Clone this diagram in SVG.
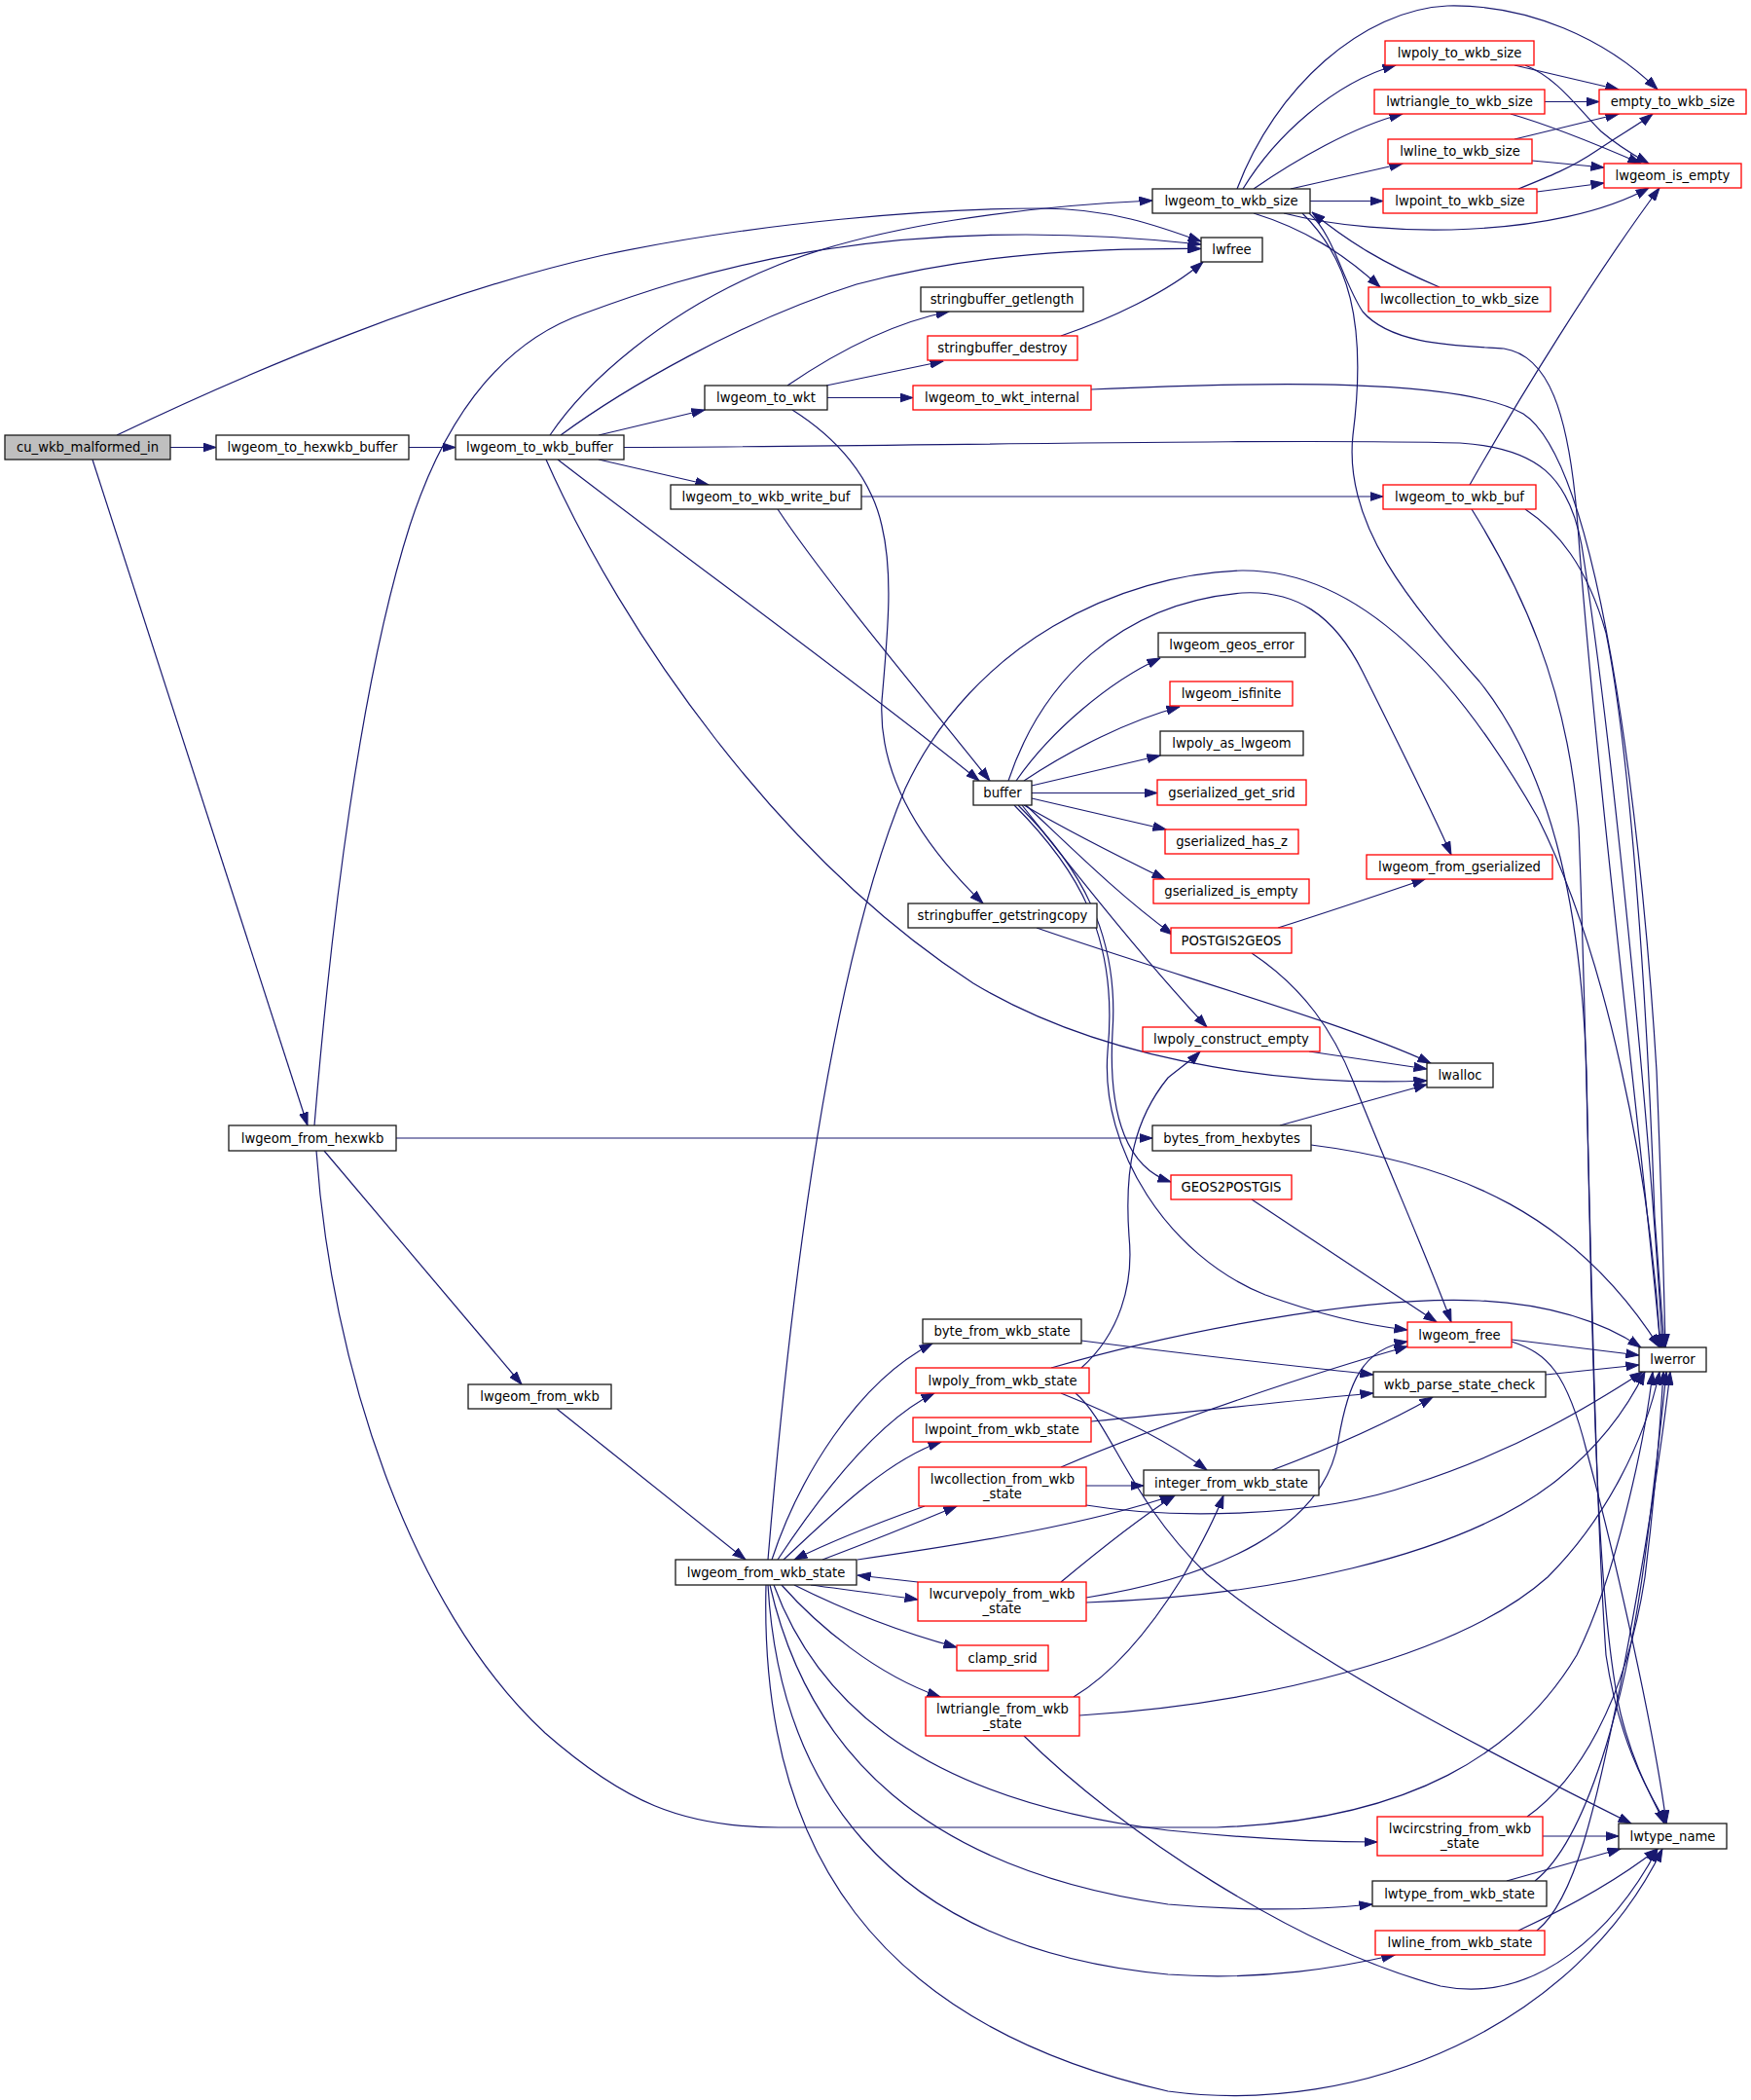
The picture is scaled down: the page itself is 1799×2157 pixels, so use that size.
<svg xmlns="http://www.w3.org/2000/svg" width="1799" height="2157" viewBox="0 0 1799 2157">
<style>
.n rect{fill:#ffffff;stroke:#1a1a1a;stroke-width:1.3}
.r rect{fill:#ffffff;stroke:#ff0000;stroke-width:1.3}
.root rect{fill:#bfbfbf;stroke:#1a1a1a;stroke-width:1.3}
text{font-family:"DejaVu Sans","Liberation Sans",sans-serif;font-size:13.2px;text-anchor:middle;fill:#000000}
.e path{fill:none;stroke:#191970;stroke-width:1.2;marker-end:url(#a)}
</style>
<defs>
<marker id="a" markerWidth="14" markerHeight="10" refX="13.5" refY="5" orient="auto" markerUnits="userSpaceOnUse"><path d="M0,0.5 L13.5,5 L0,9.5 z" fill="#191970" stroke="#191970" stroke-width="1"/></marker>
</defs>
<rect x="0" y="0" width="1799" height="2157" fill="#ffffff"/>
<g class="e" id="edges">
<path d="M175,459.5 L222,459.5"/>
<path d="M120,447 C260,380 450,300 620,262 C780,228 960,214 1070,214 C1140,214 1190,232 1234,248"/>
<path d="M95,472 L316,1156"/>
<path d="M420,459.5 L468,459.5"/>
<path d="M565,447 C600,395 680,320 800,272 C900,232 1050,212 1184,206"/>
<path d="M576,447 C640,400 760,330 880,292 C1000,260 1120,255 1234,255.5"/>
<path d="M615,447 L724,421"/>
<path d="M615,472 L728,498"/>
<path d="M641,459.5 C900,459 1300,450 1500,455 C1580,460 1612,490 1625,560 C1655,750 1695,1150 1708,1384"/>
<path d="M573,472 C700,570 900,715 1006,802"/>
<path d="M561,472 C640,650 800,880 1000,1010 C1150,1100 1350,1115 1466,1110"/>
<path d="M809,396 C850,368 910,333 975,320"/>
<path d="M849,396 L969,371"/>
<path d="M850,408.5 L938,408.5"/>
<path d="M814,421 C860,450 895,490 906,540 C918,590 912,650 906,720 C902,800 950,870 1010,928"/>
<path d="M1090,345 C1140,328 1200,300 1236,269"/>
<path d="M1121,400 C1300,392 1500,388 1565,425 C1650,480 1690,900 1702,1100 C1708,1250 1710,1340 1711,1384"/>
<path d="M885,510 L1421,510"/>
<path d="M799,523 C850,600 960,730 1017,802"/>
<path d="M1277,194 C1310,140 1370,85 1434,67"/>
<path d="M1288,194 C1330,165 1390,130 1441,117"/>
<path d="M1326,194 L1441,168"/>
<path d="M1346,206.5 L1421,206.5"/>
<path d="M1271,194 C1310,90 1400,10 1487,6 C1570,4 1650,40 1703,92"/>
<path d="M1319,219 C1420,245 1600,245 1694,193"/>
<path d="M1288,219 C1340,235 1380,260 1418,295"/>
<path d="M1479,295 C1420,270 1385,248 1348,218"/>
<path d="M1345,219 C1370,240 1380,290 1400,320 C1430,355 1500,355 1545,358 C1590,365 1612,420 1621,540 C1640,800 1690,1200 1706,1384"/>
<path d="M1338,219 C1385,265 1405,330 1390,447 C1380,540 1450,620 1520,700 C1600,800 1625,950 1630,1100 C1636,1400 1640,1650 1665,1760 C1680,1820 1700,1850 1710,1873"/>
<path d="M1556,67 L1663,92"/>
<path d="M1567,67 C1600,80 1620,110 1645,135 C1665,152 1680,160 1694,168"/>
<path d="M1587,104.5 L1643,104.5"/>
<path d="M1552,117 C1590,128 1640,148 1686,168"/>
<path d="M1556,143 L1663,117"/>
<path d="M1574,165 L1648,172"/>
<path d="M1560,194 C1590,182 1615,172 1640,155 C1665,138 1685,127 1698,117"/>
<path d="M1579,197 L1648,188"/>
<path d="M1510,498 C1560,410 1640,280 1705,193"/>
<path d="M1512,523 C1560,600 1610,700 1622,850 C1632,1100 1636,1500 1650,1700 C1665,1800 1700,1850 1712,1873"/>
<path d="M1567,523 C1600,545 1630,580 1650,650 C1680,800 1695,1100 1700,1250 C1705,1320 1708,1360 1710,1384"/>
<path d="M1044,802 C1080,750 1140,700 1192,676"/>
<path d="M1052,802 C1100,770 1160,740 1212,726"/>
<path d="M1060,807 L1192,776"/>
<path d="M1060,814.5 L1189,814.5"/>
<path d="M1060,820 L1198,852"/>
<path d="M1052,827 C1100,855 1150,880 1197,903"/>
<path d="M1054,827 C1100,870 1150,920 1205,960"/>
<path d="M1036,802 C1070,700 1150,620 1276,609 C1330,606 1370,630 1400,690 C1440,770 1470,830 1491,878"/>
<path d="M1050,827 C1100,890 1170,980 1240,1055"/>
<path d="M1046,827 C1110,890 1150,960 1143,1060 C1138,1150 1160,1200 1203,1214"/>
<path d="M1042,827 C1105,890 1150,960 1138,1080 C1130,1180 1200,1290 1300,1330 C1360,1352 1410,1362 1446,1366"/>
<path d="M1065,953 C1200,1000 1380,1050 1470,1092"/>
<path d="M1313,953 C1370,935 1420,918 1464,903"/>
<path d="M1286,979 C1340,1015 1370,1060 1390,1110 C1430,1210 1470,1300 1491,1358"/>
<path d="M1345,1080 L1466,1098"/>
<path d="M1315,1156 L1466,1114"/>
<path d="M1347,1176 C1500,1195 1620,1250 1705,1384"/>
<path d="M1286,1232 L1476,1358"/>
<path d="M1553,1376 L1684,1392"/>
<path d="M1553,1378 C1590,1390 1610,1410 1630,1490 C1660,1600 1700,1780 1712,1873"/>
<path d="M1588,1412 L1684,1402"/>
<path d="M407,1169 L1184,1169"/>
<path d="M333,1182 L536,1422"/>
<path d="M323,1156 C340,950 370,700 421,540 C460,420 520,350 600,322 C700,285 900,215 1234,251"/>
<path d="M325,1182 C340,1400 420,1650 560,1780 C640,1850 700,1877 800,1877 L1250,1877 C1450,1870 1560,1800 1620,1700 C1660,1620 1690,1480 1698,1409"/>
<path d="M572,1447 L766,1602"/>
<path d="M793,1602 C820,1520 880,1420 958,1380"/>
<path d="M799,1602 C840,1540 900,1460 960,1431"/>
<path d="M805,1602 C850,1560 910,1500 967,1481"/>
<path d="M845,1602 C890,1585 940,1565 983,1547"/>
<path d="M950,1547 C900,1565 850,1585 816,1602"/>
<path d="M881,1602 C1000,1585 1120,1565 1205,1536"/>
<path d="M789,1602 C810,1350 850,1000 930,810 C1000,660 1150,590 1276,586 C1400,585 1500,700 1580,840 C1650,980 1695,1200 1706,1384"/>
<path d="M943,1625 L881,1618"/>
<path d="M833,1628 C870,1633 910,1638 943,1643"/>
<path d="M816,1628 C860,1650 920,1675 983,1692"/>
<path d="M803,1628 C840,1670 900,1720 966,1743"/>
<path d="M795,1628 C840,1750 950,1850 1200,1880 C1300,1890 1380,1892 1415,1892"/>
<path d="M791,1628 C830,1800 950,1920 1200,1956 C1300,1965 1370,1960 1410,1956"/>
<path d="M789,1628 C800,1820 900,2000 1200,2028 C1300,2035 1380,2020 1433,2008"/>
<path d="M787,1628 C780,1900 900,2080 1200,2148 C1400,2175 1620,2080 1708,1899"/>
<path d="M1103,1743 C1150,1715 1190,1660 1215,1620 C1235,1585 1250,1555 1257,1536"/>
<path d="M1109,1762 C1300,1750 1500,1700 1590,1620 C1650,1560 1690,1480 1705,1409"/>
<path d="M1052,1783 C1150,1880 1330,2000 1480,2040 C1580,2060 1660,1980 1703,1899"/>
<path d="M1090,1625 C1120,1600 1170,1560 1207,1536"/>
<path d="M1116,1641 C1250,1620 1360,1570 1375,1480 C1385,1420 1400,1385 1446,1378"/>
<path d="M1116,1646 C1300,1640 1500,1600 1600,1520 C1650,1480 1675,1440 1690,1409"/>
<path d="M1116,1526 L1175,1526"/>
<path d="M1090,1507 C1200,1460 1350,1410 1446,1383"/>
<path d="M1116,1546 C1200,1560 1350,1560 1450,1525 C1560,1490 1640,1440 1688,1409"/>
<path d="M1080,1405 C1200,1370 1400,1330 1520,1336 C1600,1340 1650,1360 1686,1384"/>
<path d="M1111,1405 C1150,1370 1165,1320 1160,1270 C1155,1200 1165,1150 1200,1107 C1215,1095 1225,1088 1233,1080"/>
<path d="M1090,1431 C1150,1455 1200,1480 1240,1510"/>
<path d="M1105,1431 C1140,1460 1160,1540 1240,1617 C1350,1710 1550,1810 1676,1873"/>
<path d="M1111,1377 C1250,1395 1350,1405 1411,1412"/>
<path d="M1121,1460 C1250,1448 1350,1436 1411,1431"/>
<path d="M1307,1510 C1360,1490 1420,1465 1472,1435"/>
<path d="M1585,1886 L1663,1886"/>
<path d="M1569,1866 C1620,1830 1670,1750 1690,1620 C1700,1540 1706,1460 1709,1409"/>
<path d="M1548,1932 L1665,1899"/>
<path d="M1577,1932 C1630,1890 1670,1750 1690,1600 C1700,1520 1708,1450 1712,1409"/>
<path d="M1560,1983 C1620,1955 1670,1925 1703,1899"/>
<path d="M1579,1983 C1620,1950 1640,1850 1665,1730 C1690,1600 1708,1480 1716,1409"/>
</g>
<g class="root" id="cu_wkb_malformed_in"><rect x="5" y="447" width="170" height="25"/><text x="90" y="464">cu_wkb_malformed_in</text></g>
<g class="n" id="lwgeom_to_hexwkb_buffer"><rect x="222" y="447" width="198" height="25"/><text x="321" y="464">lwgeom_to_hexwkb_buffer</text></g>
<g class="n" id="lwgeom_to_wkb_buffer"><rect x="468" y="447" width="173" height="25"/><text x="554.5" y="464">lwgeom_to_wkb_buffer</text></g>
<g class="n" id="lwgeom_to_wkt"><rect x="724" y="396" width="126" height="25"/><text x="787" y="413">lwgeom_to_wkt</text></g>
<g class="n" id="stringbuffer_getlength"><rect x="946" y="295" width="167" height="25"/><text x="1029.5" y="312">stringbuffer_getlength</text></g>
<g class="r" id="stringbuffer_destroy"><rect x="953" y="345" width="154" height="25"/><text x="1030" y="362">stringbuffer_destroy</text></g>
<g class="r" id="lwgeom_to_wkt_internal"><rect x="938" y="396" width="183" height="25"/><text x="1029.5" y="413">lwgeom_to_wkt_internal</text></g>
<g class="n" id="lwgeom_to_wkb_write_buf"><rect x="689" y="498" width="196" height="25"/><text x="787" y="515">lwgeom_to_wkb_write_buf</text></g>
<g class="n" id="lwgeom_to_wkb_size"><rect x="1184" y="194" width="162" height="25"/><text x="1265" y="211">lwgeom_to_wkb_size</text></g>
<g class="n" id="lwfree"><rect x="1234" y="244" width="63" height="25"/><text x="1265.5" y="261">lwfree</text></g>
<g class="r" id="lwpoly_to_wkb_size"><rect x="1423" y="42" width="153" height="25"/><text x="1499.5" y="59">lwpoly_to_wkb_size</text></g>
<g class="r" id="lwtriangle_to_wkb_size"><rect x="1412" y="92" width="175" height="25"/><text x="1499.5" y="109">lwtriangle_to_wkb_size</text></g>
<g class="r" id="lwline_to_wkb_size"><rect x="1426" y="143" width="148" height="25"/><text x="1500" y="160">lwline_to_wkb_size</text></g>
<g class="r" id="lwpoint_to_wkb_size"><rect x="1421" y="194" width="158" height="25"/><text x="1500" y="211">lwpoint_to_wkb_size</text></g>
<g class="r" id="empty_to_wkb_size"><rect x="1643" y="92" width="151" height="25"/><text x="1718.5" y="109">empty_to_wkb_size</text></g>
<g class="r" id="lwgeom_is_empty"><rect x="1648" y="168" width="141" height="25"/><text x="1718.5" y="185">lwgeom_is_empty</text></g>
<g class="r" id="lwcollection_to_wkb_size"><rect x="1406" y="295" width="187" height="25"/><text x="1499.5" y="312">lwcollection_to_wkb_size</text></g>
<g class="r" id="lwgeom_to_wkb_buf"><rect x="1421" y="498" width="157" height="25"/><text x="1499.5" y="515">lwgeom_to_wkb_buf</text></g>
<g class="n" id="buffer"><rect x="1000" y="802" width="60" height="25"/><text x="1030" y="819">buffer</text></g>
<g class="n" id="stringbuffer_getstringcopy"><rect x="933" y="928" width="194" height="25"/><text x="1030" y="945">stringbuffer_getstringcopy</text></g>
<g class="n" id="lwgeom_geos_error"><rect x="1190" y="650" width="151" height="25"/><text x="1265.5" y="667">lwgeom_geos_error</text></g>
<g class="r" id="lwgeom_isfinite"><rect x="1202" y="700" width="126" height="25"/><text x="1265" y="717">lwgeom_isfinite</text></g>
<g class="n" id="lwpoly_as_lwgeom"><rect x="1192" y="751" width="147" height="25"/><text x="1265.5" y="768">lwpoly_as_lwgeom</text></g>
<g class="r" id="gserialized_get_srid"><rect x="1189" y="801" width="153" height="26"/><text x="1265.5" y="818.5">gserialized_get_srid</text></g>
<g class="r" id="gserialized_has_z"><rect x="1197" y="852" width="137" height="25"/><text x="1265.5" y="869">gserialized_has_z</text></g>
<g class="r" id="gserialized_is_empty"><rect x="1185" y="903" width="160" height="25"/><text x="1265" y="920">gserialized_is_empty</text></g>
<g class="r" id="POSTGIS2GEOS"><rect x="1203" y="953" width="124" height="26"/><text x="1265" y="970.5">POSTGIS2GEOS</text></g>
<g class="r" id="lwgeom_from_gserialized"><rect x="1404" y="878" width="191" height="25"/><text x="1499.5" y="895">lwgeom_from_gserialized</text></g>
<g class="r" id="lwpoly_construct_empty"><rect x="1174" y="1055" width="182" height="25"/><text x="1265" y="1072">lwpoly_construct_empty</text></g>
<g class="n" id="lwalloc"><rect x="1466" y="1092" width="68" height="25"/><text x="1500" y="1109">lwalloc</text></g>
<g class="n" id="bytes_from_hexbytes"><rect x="1184" y="1156" width="163" height="26"/><text x="1265.5" y="1173.5">bytes_from_hexbytes</text></g>
<g class="r" id="GEOS2POSTGIS"><rect x="1203" y="1207" width="124" height="25"/><text x="1265" y="1224">GEOS2POSTGIS</text></g>
<g class="r" id="lwgeom_free"><rect x="1446" y="1358" width="107" height="26"/><text x="1499.5" y="1375.5">lwgeom_free</text></g>
<g class="n" id="lwerror"><rect x="1684" y="1384" width="69" height="25"/><text x="1718.5" y="1401">lwerror</text></g>
<g class="n" id="wkb_parse_state_check"><rect x="1411" y="1409" width="177" height="26"/><text x="1499.5" y="1426.5">wkb_parse_state_check</text></g>
<g class="n" id="integer_from_wkb_state"><rect x="1175" y="1510" width="180" height="26"/><text x="1265" y="1527.5">integer_from_wkb_state</text></g>
<g class="n" id="lwgeom_from_hexwkb"><rect x="235" y="1156" width="172" height="26"/><text x="321" y="1173.5">lwgeom_from_hexwkb</text></g>
<g class="n" id="lwgeom_from_wkb"><rect x="481" y="1422" width="147" height="25"/><text x="554.5" y="1439">lwgeom_from_wkb</text></g>
<g class="n" id="byte_from_wkb_state"><rect x="948" y="1355" width="163" height="25"/><text x="1029.5" y="1372">byte_from_wkb_state</text></g>
<g class="r" id="lwpoly_from_wkb_state"><rect x="941" y="1405" width="178" height="26"/><text x="1030" y="1422.5">lwpoly_from_wkb_state</text></g>
<g class="r" id="lwpoint_from_wkb_state"><rect x="938" y="1456" width="183" height="25"/><text x="1029.5" y="1473">lwpoint_from_wkb_state</text></g>
<g class="r" id="lwcollection_from_wkb_state"><rect x="944" y="1507" width="172" height="40"/><text x="1030" y="1524">lwcollection_from_wkb</text><text x="1030" y="1538.5">_state</text></g>
<g class="n" id="lwgeom_from_wkb_state"><rect x="694" y="1602" width="186" height="26"/><text x="787" y="1619.5">lwgeom_from_wkb_state</text></g>
<g class="r" id="lwcurvepoly_from_wkb_state"><rect x="943" y="1625" width="173" height="40"/><text x="1029.5" y="1642">lwcurvepoly_from_wkb</text><text x="1029.5" y="1656.5">_state</text></g>
<g class="r" id="clamp_srid"><rect x="983" y="1690" width="94" height="26"/><text x="1030" y="1707.5">clamp_srid</text></g>
<g class="r" id="lwtriangle_from_wkb_state"><rect x="951" y="1743" width="158" height="40"/><text x="1030" y="1760">lwtriangle_from_wkb</text><text x="1030" y="1774.5">_state</text></g>
<g class="r" id="lwcircstring_from_wkb_state"><rect x="1415" y="1866" width="170" height="40"/><text x="1500" y="1883">lwcircstring_from_wkb</text><text x="1500" y="1897.5">_state</text></g>
<g class="n" id="lwtype_name"><rect x="1663" y="1873" width="111" height="26"/><text x="1718.5" y="1890.5">lwtype_name</text></g>
<g class="n" id="lwtype_from_wkb_state"><rect x="1410" y="1932" width="179" height="26"/><text x="1499.5" y="1949.5">lwtype_from_wkb_state</text></g>
<g class="r" id="lwline_from_wkb_state"><rect x="1413" y="1983" width="174" height="25"/><text x="1500" y="2000">lwline_from_wkb_state</text></g>
</svg>
